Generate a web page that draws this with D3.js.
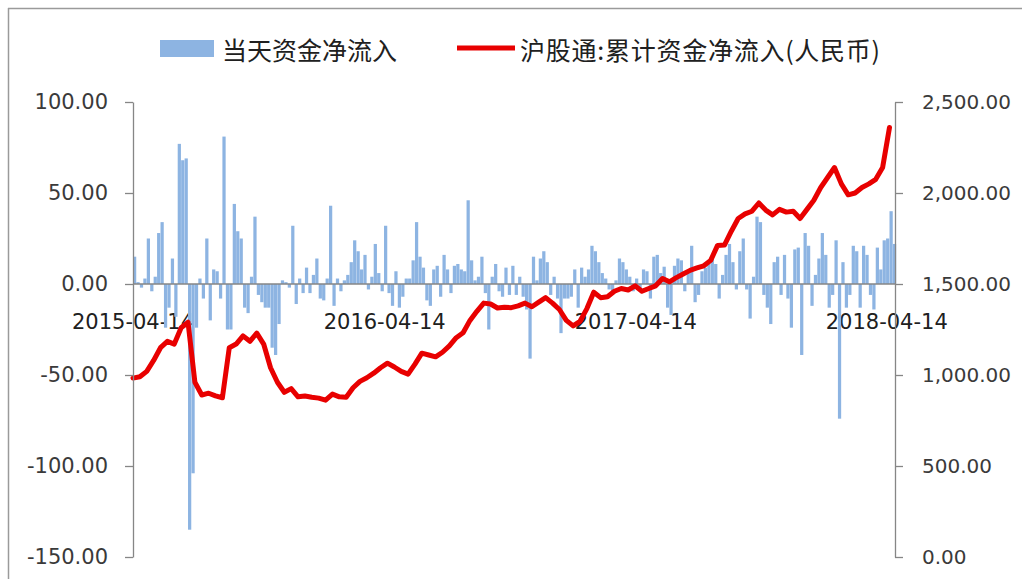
<!DOCTYPE html>
<html>
<head>
<meta charset="utf-8">
<script src="https://cdn.jsdelivr.net/npm/d3@7"></script>
<style>
  html, body { margin: 0; padding: 0; background: #ffffff; }
  svg { display: block; }
</style>
</head>
<body>
<svg id="chart" width="1022" height="579"></svg>
<script>
// ---------------- DATA ----------------
const startDateLabel = "2015-04-14";
const endDateLabel = "2018-04-26";
const barStepDays = 5;    // spacing of the daily-flow samples
const lineStepDays = 10;  // spacing of the cumulative samples

const xTickLabels = ["2015-04-14", "2016-04-14", "2017-04-14", "2018-04-14"];
const leftTicks = [100, 50, 0, -50, -100, -150];
const rightTicks = [2500, 2000, 1500, 1000, 500, 0];
const seriesNames = ["当天资金净流入", "沪股通:累计资金净流入(人民币)"];

// 当天资金净流入 (left axis)
const flowValues = [
  15, 1, -2, 3, 25, -4, 4, 28, 34, -24,
  -13, 14, -18, 77, 68, 69, -135, -104, -24, 3,
  -8, 25, -20, 8, 7, -8, 81, -25, -25, 44,
  29, 25, -13, -16, 4, 37, -6, -10, -13, -13,
  -35, -39, -22, 2, 1, -2, 32, -11, 3, -5,
  9, -5, 5, 14, -8, -9, 3, 43, -12, 3,
  -4, 2, 5, 12, 24, 18, 8, 16, -3, 4,
  22, 6, -4, 32, -5, -12, 7, -13, -7, 3,
  3, 13, 34, 15, 9, -9, -12, 8, 10, -7,
  16, 8, -5, 10, 11, 8, 7, 46, 13, 2,
  4, 15, -5, -25, 4, 11, -4, -7, 9, -6,
  10, -6, 4, -7, -14, -41, 15, 2, 14, 18,
  12, -6, 4, -8, -27, -8, -8, -7, 8, -13,
  9, 4, 8, 21, 18, 12, 6, 3, -3, -4,
  2, 14, 12, 8, 4, -4, 3, -3, 8, 7,
  -8, 15, 16, 6, 9.5, -13, -17, 10, 14, 13,
  -4, 7, 21, -10, -6, 7, 9, 11, 15, 11,
  -8, 5, 16, 22, 12, -3, 18, 25, -3, -19,
  4, 37, 34, -6, -13, -22, 12, 15, -6, 16,
  -8, -24, 19, 20, -39, 28, 21, -12, 5, 14,
  28, 16, -13, -6, 24, -74, 12, -13, -6, 21,
  18, -13, 21, 16, -6, -14, 20, 8, 24, 25,
  40, 22
];

// 沪股通:累计资金净流入(人民币) (right axis)
const cumValues = [
  983, 990, 1020, 1080, 1150, 1185, 1170, 1260, 1290, 960,
  890, 900, 885, 875, 1150, 1170, 1215, 1185, 1230, 1170,
  1040, 960, 905, 925, 880, 885, 878, 873, 862, 895,
  880, 878, 930, 965, 985, 1010, 1040, 1065, 1044, 1020,
  1005, 1060, 1120, 1110, 1100, 1125, 1160, 1205, 1232, 1300,
  1350, 1395, 1390, 1368, 1372, 1370, 1380, 1395, 1375, 1400,
  1425, 1395, 1360, 1300, 1270, 1295, 1365, 1455, 1425, 1430,
  1460, 1475, 1467, 1490, 1460, 1475, 1490, 1530, 1512, 1535,
  1555, 1575, 1588, 1600, 1630, 1712, 1714, 1790, 1860, 1885,
  1900, 1945, 1906, 1880, 1910, 1895, 1900, 1860, 1910, 1960,
  2030, 2085, 2140, 2050, 1990, 2000, 2030, 2050, 2075, 2140,
  2360
];

// ---------------- CHART ----------------
const parse = d3.utcParse("%Y-%m-%d");
const start = parse(startDateLabel);
const end = parse(endDateLabel);

const svg = d3.select("#chart");
const W = 1022, H = 579;
const plot = { left: 133, right: 895, top: 102, bottom: 557 };

const axisColor = "#868686";
const textColor = "#3a3a3a";
const barColor = "#8db4e2";
const lineColor = "#e80000";
const labelFont = "'DejaVu Sans', Verdana, sans-serif";
const cjkFont = "'Noto Sans CJK SC', 'Noto Sans', sans-serif";

const locale = d3.formatLocale({ decimal: ".", thousands: ",", grouping: [3], currency: ["", ""], minus: "-" });

// frame
svg.append("rect").attr("x", 0).attr("y", 0).attr("width", W).attr("height", H).attr("fill", "#fff");
svg.append("line").attr("x1", 8).attr("x2", W).attr("y1", 8.5).attr("y2", 8.5)
  .attr("stroke", "#9a9a9a").attr("stroke-width", 1.5);
svg.append("line").attr("x1", 8.5).attr("x2", 8.5).attr("y1", 8).attr("y2", H)
  .attr("stroke", "#9a9a9a").attr("stroke-width", 1.5);

const x = d3.scaleUtc().domain([start, end]).range([plot.left, plot.right]);
const yL = d3.scaleLinear().domain([-150, 100]).range([plot.bottom, plot.top]);
const yR = d3.scaleLinear().domain([0, 2500]).range([plot.bottom, plot.top]);

const barData = flowValues.map((v, i) => ({ date: d3.utcDay.offset(start, i * barStepDays), v }));
const lineData = cumValues.map((v, i) => ({ date: d3.utcDay.offset(start, i * lineStepDays), v }));

// x labels (drawn under the marks, as in the reference)
svg.append("g").selectAll("text").data(xTickLabels).join("text")
  .attr("x", d => x(parse(d)))
  .attr("y", 322)
  .attr("text-anchor", "middle")
  .attr("dominant-baseline", "central")
  .attr("font-family", labelFont)
  .attr("font-size", 21)
  .attr("fill", "#202020")
  .text(d => d);

// bars
svg.append("g").selectAll("rect").data(barData).join("rect")
  .attr("x", d => x(d.date))
  .attr("width", d => Math.max(0.5, x(d3.utcDay.offset(d.date, barStepDays)) - x(d.date) - 0.2))
  .attr("y", d => Math.min(yL(d.v), yL(0)))
  .attr("height", d => Math.abs(yL(d.v) - yL(0)))
  .attr("fill", barColor);

// zero (category) axis line
svg.append("line")
  .attr("x1", plot.left).attr("x2", plot.right)
  .attr("y1", yL(0)).attr("y2", yL(0))
  .attr("stroke", axisColor).attr("stroke-width", 1.3);

// cumulative line
svg.append("path").datum(lineData)
  .attr("fill", "none")
  .attr("stroke", lineColor)
  .attr("stroke-width", 5)
  .attr("stroke-linejoin", "round")
  .attr("stroke-linecap", "round")
  .attr("d", d3.line().x(d => x(d.date)).y(d => yR(d.v)));

// left axis
const gL = svg.append("g").attr("transform", `translate(${plot.left},0)`)
  .call(d3.axisLeft(yL).tickValues(leftTicks).tickFormat(locale.format(".2f"))
    .tickSizeInner(8).tickSizeOuter(0).tickPadding(17));
// right axis
const gR = svg.append("g").attr("transform", `translate(${plot.right},0)`)
  .call(d3.axisRight(yR).tickValues(rightTicks).tickFormat(locale.format(",.2f"))
    .tickSizeInner(8).tickSizeOuter(0).tickPadding(19));

[gL, gR].forEach(g => {
  g.select(".domain").attr("stroke", axisColor).attr("stroke-width", 1.3);
  g.selectAll(".tick line").attr("stroke", axisColor).attr("stroke-width", 1.3);
  g.selectAll(".tick text")
    .attr("font-family", labelFont)
    .attr("fill", textColor);
});
gL.selectAll(".tick text").attr("font-size", 21);
gR.selectAll(".tick text").attr("font-size", 20);

// legend
const lg = svg.append("g");
lg.append("rect").attr("x", 160).attr("y", 40).attr("width", 54).attr("height", 17).attr("fill", barColor);
lg.append("text").attr("x", 222).attr("y", 49)
  .attr("dominant-baseline", "central")
  .attr("font-family", cjkFont).attr("font-size", 25).attr("fill", "#202020")
  .text(seriesNames[0]);
lg.append("line").attr("x1", 457).attr("x2", 515).attr("y1", 48).attr("y2", 48)
  .attr("stroke", lineColor).attr("stroke-width", 5);
lg.append("text").attr("x", 520).attr("y", 49)
  .attr("dominant-baseline", "central")
  .attr("font-family", cjkFont).attr("font-size", 25).attr("fill", "#202020")
  .attr("textLength", 360).attr("lengthAdjust", "spacing")
  .text(seriesNames[1]);
</script>
</body>
</html>
